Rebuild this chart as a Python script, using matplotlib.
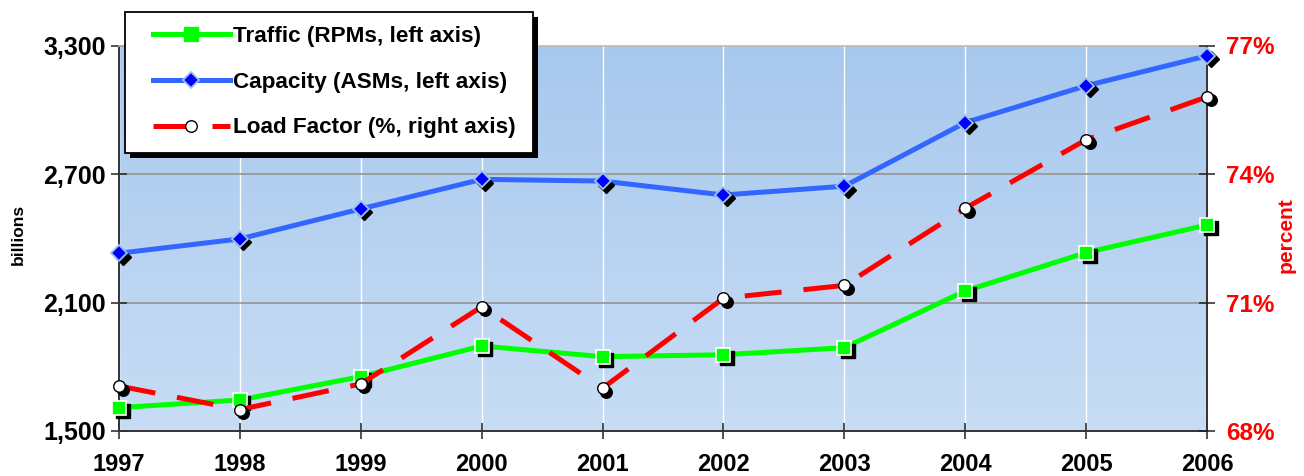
import numpy as np
import matplotlib
matplotlib.use("Agg")
import matplotlib.pyplot as plt
from matplotlib import transforms
from matplotlib.lines import Line2D
from matplotlib.patches import Rectangle
from matplotlib.ticker import FuncFormatter

# ---- data -------------------------------------------------------------
years = [1997, 1998, 1999, 2000, 2001, 2002, 2003, 2004, 2005, 2006]
traffic_rpm = [1609, 1645, 1754, 1897, 1847, 1856, 1889, 2154, 2333, 2462]
capacity_asm = [2330, 2397, 2537, 2675, 2667, 2602, 2643, 2940, 3112, 3252]
load_factor = [69.05, 68.5, 69.1, 70.9, 69.0, 71.1, 71.4, 73.2, 74.8, 75.8]

left_ticks = [1500, 2100, 2700, 3300]
right_ticks = [68, 71, 74, 77]
labels = ["Traffic (RPMs, left axis)", "Capacity (ASMs, left axis)",
          "Load Factor (%, right axis)"]

GREEN = "#00FF00"
BLUE_LINE = "#3366FF"
BLUE_MARK = "#0000FF"
BLUE_EDGE = "#9CC3F0"
RED = "#FF0000"

plt.rcParams["font.family"] = ["Liberation Sans", "DejaVu Sans"]
plt.rcParams["font.weight"] = "bold"

W, H = 1304, 476
fig = plt.figure(figsize=(W / 100, H / 100), dpi=100)
ax = fig.add_axes([119 / W, 1 - 431 / H, (1207 - 119) / W, (431 - 45.5) / H])

# gradient background of the plotting area
grad = np.linspace(0, 1, 256).reshape(-1, 1)
top = np.array([0.655, 0.784, 0.930])
bottom = np.array([0.784, 0.867, 0.961])
img = top[None, None, :] * (1 - grad[..., None]) + bottom[None, None, :] * grad[..., None]
ax.imshow(img, extent=[0, 1, 0, 1], transform=ax.transAxes, aspect="auto",
          zorder=0, interpolation="bilinear")

ax.set_xlim(years[0], years[-1])
ax.set_ylim(left_ticks[0], left_ticks[-1])
ax.set_xticks(years)
ax.set_yticks(left_ticks)
ax.yaxis.set_major_formatter(FuncFormatter(lambda v, p: f"{v:,.0f}"))

for x in years:
    ax.axvline(x, color="white", lw=1.0, zorder=1)
for y in left_ticks[1:-1]:
    ax.axhline(y, color="#999999", lw=1.3, zorder=1)

for side in ("left", "right", "bottom"):
    ax.spines[side].set_color("#333333")
    ax.spines[side].set_linewidth(1.4)
ax.spines["top"].set_color("#BBBBBB")
ax.spines["top"].set_linewidth(1.2)

ax.tick_params(axis="y", direction="inout", length=11, width=1.1, colors="#222222",
               labelsize=18, pad=4, labelcolor="black")
ax.tick_params(axis="x", direction="inout", length=12, width=1.1, colors="#222222",
               labelsize=17, pad=10, labelcolor="black")

ax2 = ax.twinx()
ax2.set_ylim(right_ticks[0], right_ticks[-1])
ax2.set_yticks(right_ticks)
ax2.yaxis.set_major_formatter(FuncFormatter(lambda v, p: f"{v:.0f}%"))
ax2.tick_params(axis="y", direction="inout", length=11, width=1.1, colors="#222222",
                labelsize=17.5, pad=8, labelcolor=RED)
for s in ax2.spines.values():
    s.set_visible(False)

# axis titles, placed in pixel positions
fig.text(18.5 / W, 1 - 234 / H, "billions", rotation=90, ha="center", va="center",
         fontsize=12.5, fontweight="bold", color="black")
fig.text(1286 / W, 1 - 235 / H, "percent", rotation=90, ha="center", va="center",
         fontsize=15, fontweight="bold", color=RED)


def shadow_tr(a):
    return transforms.offset_copy(a.transData, fig=fig, x=3.5, y=-3.5, units="dots")


LW = 3.6
SQ, DM, CI = 9.5, 8.5, 8.3

# traffic
ax.plot(years, traffic_rpm, color=GREEN, lw=LW, zorder=3, solid_capstyle="butt")
ax.plot(years, traffic_rpm, ls="none", marker="s", ms=SQ, mfc="black", mec="black",
        transform=shadow_tr(ax), zorder=3.5, clip_on=False)
ax.plot(years, traffic_rpm, ls="none", marker="s", ms=SQ, mfc=GREEN, mec="white",
        mew=1.2, zorder=4, clip_on=False)

# capacity
ax.plot(years, capacity_asm, color=BLUE_LINE, lw=LW, zorder=3, solid_capstyle="butt")
ax.plot(years, capacity_asm, ls="none", marker="D", ms=DM, mfc="black", mec="black",
        transform=shadow_tr(ax), zorder=3.5, clip_on=False)
ax.plot(years, capacity_asm, ls="none", marker="D", ms=DM, mfc=BLUE_MARK,
        mec=BLUE_EDGE, mew=1.3, zorder=4, clip_on=False)

# load factor (right axis)
ax2.plot(years, load_factor, color=RED, lw=LW, dashes=(7.4, 4.4),
         dash_capstyle="butt", zorder=3)
ax2.plot(years, load_factor, ls="none", marker="o", ms=CI, mfc="black", mec="black",
         transform=shadow_tr(ax2), zorder=3.5, clip_on=False)
ax2.plot(years, load_factor, ls="none", marker="o", ms=CI, mfc="white", mec="black",
         mew=1.0, zorder=4, clip_on=False)

# legend box (frame and drop shadow drawn in pixel units)
box_x0, box_y0, box_x1, box_y1 = 125, 12, 533, 153
pix = transforms.IdentityTransform()
fig.add_artist(Rectangle((box_x0 + 5, H - box_y1 - 5), box_x1 - box_x0, box_y1 - box_y0,
                         transform=pix, facecolor="black", edgecolor="none", zorder=8))
fig.add_artist(Rectangle((box_x0, H - box_y1), box_x1 - box_x0, box_y1 - box_y0,
                         transform=pix, facecolor="white", edgecolor="black",
                         lw=1.3, zorder=9))

handles = [
    Line2D([], [], color=GREEN, lw=LW, marker="s", ms=SQ, mfc=GREEN, mec=GREEN),
    Line2D([], [], color=BLUE_LINE, lw=LW, marker="D", ms=DM, mfc=BLUE_MARK,
           mec=BLUE_EDGE, mew=1.3),
    Line2D([], [], color=RED, lw=LW, dashes=(7.4, 4.4), dash_capstyle="butt",
           marker="o", ms=CI, mfc="white", mec="black", mew=1.0),
]
leg = fig.legend(handles, labels, loc="upper left",
                 bbox_to_anchor=(153 / W, 1 - 26 / H), bbox_transform=fig.transFigure,
                 frameon=False, borderaxespad=0, borderpad=0, handlelength=3.4,
                 handletextpad=0.15, labelspacing=1.1,
                 prop={"size": 16.2, "weight": "bold"})
leg.set_zorder(10)

fig.savefig("out.png", dpi=100)
